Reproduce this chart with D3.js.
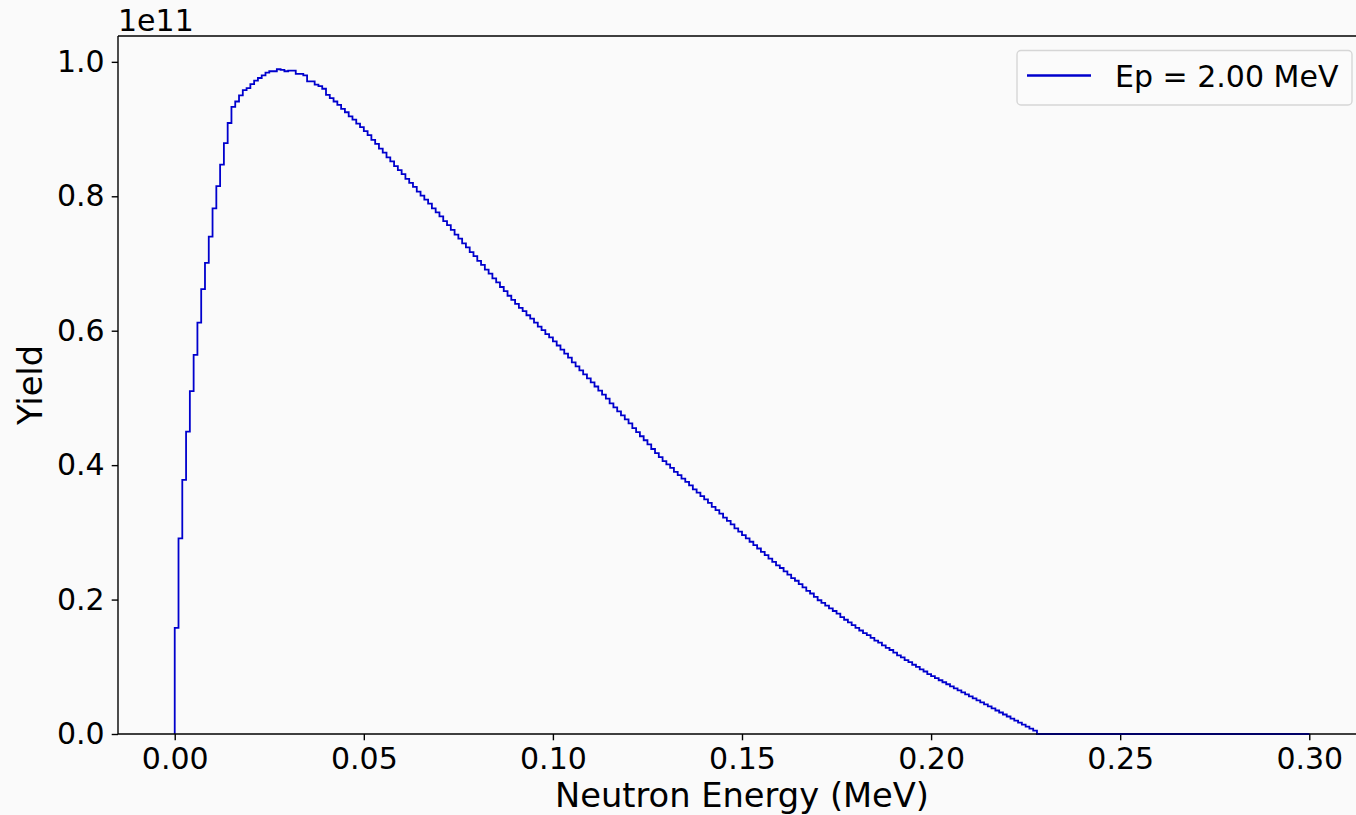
<!DOCTYPE html>
<html>
<head>
<meta charset="utf-8">
<script src="https://cdn.jsdelivr.net/npm/d3@7"></script>
<style>
  html, body { margin: 0; padding: 0; background: #fafafa; }
  svg { display: block; font-family: "DejaVu Sans", sans-serif; }
</style>
</head>
<body>
<svg id="chart" width="1356" height="815"></svg>
<script>
// histogram range (MeV) and per-bin yield, in units of 1e11
const ENERGY_RANGE = [0.0, 0.30];
const YIELD_E11 = [
  0.158, 0.291, 0.378, 0.450, 0.510, 0.564, 0.612, 0.662, 0.701, 0.740,
  0.782, 0.815, 0.847, 0.879, 0.909, 0.933, 0.941, 0.950, 0.958, 0.961,
  0.967, 0.972, 0.976, 0.980, 0.984, 0.986, 0.986, 0.989, 0.988, 0.986,
  0.987, 0.987, 0.982, 0.982, 0.980, 0.971, 0.971, 0.966, 0.964, 0.960,
  0.951, 0.946, 0.941, 0.936, 0.930, 0.925, 0.919, 0.914, 0.908, 0.903,
  0.897, 0.891, 0.884, 0.878, 0.871, 0.865, 0.858, 0.852, 0.845, 0.839,
  0.833, 0.826, 0.820, 0.814, 0.807, 0.801, 0.795, 0.789, 0.782, 0.776,
  0.770, 0.763, 0.757, 0.750, 0.743, 0.737, 0.730, 0.724, 0.717, 0.711,
  0.704, 0.698, 0.691, 0.685, 0.678, 0.672, 0.665, 0.659, 0.652, 0.646,
  0.640, 0.634, 0.629, 0.623, 0.618, 0.612, 0.606, 0.601, 0.595, 0.590,
  0.584, 0.578, 0.572, 0.566, 0.560, 0.553, 0.547, 0.541, 0.535, 0.529,
  0.523, 0.517, 0.511, 0.505, 0.499, 0.492, 0.486, 0.480, 0.474, 0.468,
  0.462, 0.455, 0.449, 0.443, 0.437, 0.431, 0.424, 0.418, 0.412, 0.406,
  0.401, 0.396, 0.390, 0.385, 0.380, 0.375, 0.370, 0.364, 0.359, 0.354,
  0.349, 0.344, 0.338, 0.333, 0.328, 0.322, 0.317, 0.312, 0.306, 0.301,
  0.296, 0.291, 0.286, 0.281, 0.276, 0.271, 0.266, 0.261, 0.256, 0.251,
  0.247, 0.242, 0.237, 0.232, 0.228, 0.223, 0.218, 0.213, 0.209, 0.204,
  0.199, 0.195, 0.191, 0.187, 0.183, 0.179, 0.174, 0.170, 0.166, 0.162,
  0.158, 0.154, 0.150, 0.147, 0.143, 0.139, 0.136, 0.132, 0.128, 0.125,
  0.121, 0.117, 0.114, 0.110, 0.107, 0.103, 0.100, 0.096, 0.093, 0.089,
  0.086, 0.083, 0.080, 0.077, 0.074, 0.071, 0.068, 0.065, 0.062, 0.059,
  0.056, 0.053, 0.050, 0.047, 0.044, 0.041, 0.038, 0.035, 0.032, 0.029,
  0.026, 0.023, 0.020, 0.017, 0.014, 0.011, 0.008, 0.005, 0, 0,
  0, 0, 0, 0, 0, 0, 0, 0, 0, 0,
  0, 0, 0, 0, 0, 0, 0, 0, 0, 0,
  0, 0, 0, 0, 0, 0, 0, 0, 0, 0,
  0, 0, 0, 0, 0, 0, 0, 0, 0, 0,
  0, 0, 0, 0, 0, 0, 0, 0, 0, 0,
  0, 0, 0, 0, 0, 0, 0, 0, 0, 0,
  0, 0, 0, 0, 0, 0, 0, 0, 0, 0
];

const X_TICKS = [0.00, 0.05, 0.10, 0.15, 0.20, 0.25, 0.30];
const Y_TICKS = [0.0, 0.2, 0.4, 0.6, 0.8, 1.0];
const SERIES_LABEL = "Ep = 2.00 MeV";
const X_LABEL = "Neutron Energy (MeV)";
const Y_LABEL = "Yield";
const OFFSET_TEXT = "1e11";

const LINE_COLOR = "#0000cd";
const TICK_FONT = 30;
const LEGEND_FONT = 30;
const LABEL_FONT = 33.7;

const svg = d3.select("#chart");

// axes box; right spine falls just outside the picture, as in the original
const box = { left: 118, top: 36, right: 1366, bottom: 734 };

// matplotlib-style 5% margins
const span = ENERGY_RANGE[1] - ENERGY_RANGE[0];
const x = d3.scaleLinear()
  .domain([ENERGY_RANGE[0] - 0.05 * span, ENERGY_RANGE[1] + 0.05 * span])
  .range([box.left, box.right]);

const yMax = d3.max(YIELD_E11);
const y = d3.scaleLinear()
  .domain([0, yMax * 1.05])
  .range([box.bottom, box.top]);

svg.append("rect")
  .attr("width", 1356).attr("height", 815)
  .attr("fill", "#fafafa");

// ---------------------------
// step outline (histtype='step')
// ---------------------------
const binW = span / YIELD_E11.length;
const pts = [[ENERGY_RANGE[0], 0]];
YIELD_E11.forEach((v, i) => {
  const x0 = ENERGY_RANGE[0] + i * binW;
  pts.push([x0, v], [x0 + binW, v]);
});
pts.push([ENERGY_RANGE[1], 0]);

svg.append("path")
  .attr("d", d3.line().x(d => x(d[0])).y(d => y(d[1]))(pts))
  .attr("fill", "none")
  .attr("stroke", LINE_COLOR)
  .attr("stroke-width", 1.8)
  .attr("stroke-linejoin", "miter");

// ---------------------------
// axes
// ---------------------------
const xAxis = svg.append("g")
  .attr("transform", `translate(0,${box.bottom})`)
  .call(d3.axisBottom(x)
    .tickValues(X_TICKS)
    .tickFormat(d3.format(".2f"))
    .tickSize(6.3)
    .tickPadding(6)
    .tickSizeOuter(0));

const yAxis = svg.append("g")
  .attr("transform", `translate(${box.left},0)`)
  .call(d3.axisLeft(y)
    .tickValues(Y_TICKS)
    .tickFormat(d3.format(".1f"))
    .tickSize(6.3)
    .tickPadding(7)
    .tickSizeOuter(0));

[xAxis, yAxis].forEach(ax => {
  ax.select(".domain").remove();
  ax.selectAll(".tick line").attr("stroke", "#000").attr("stroke-width", 1.4);
  ax.selectAll(".tick text")
    .attr("fill", "#000")
    .style("font-family", "DejaVu Sans, sans-serif")
    .style("font-size", TICK_FONT + "px");
});
xAxis.selectAll(".tick text").attr("dy", "0.76em");

// spines (left, top, bottom; right one is off-canvas)
const spines = svg.append("g")
  .attr("stroke", "#000")
  .attr("stroke-width", 1.4)
  .attr("fill", "none");
spines.append("line").attr("x1", box.left).attr("x2", box.left).attr("y1", box.top).attr("y2", box.bottom);
spines.append("line").attr("x1", box.left).attr("x2", box.right).attr("y1", box.top).attr("y2", box.top);
spines.append("line").attr("x1", box.left).attr("x2", box.right).attr("y1", box.bottom).attr("y2", box.bottom);
spines.append("line").attr("x1", box.right).attr("x2", box.right).attr("y1", box.top).attr("y2", box.bottom);

// zero-bin part of the outline sits on top of the spine
svg.append("path")
  .attr("d", d3.line().x(d => x(d[0])).y(d => y(d[1]))(pts.filter(d => d[1] === 0 && d[0] > 0.2)))
  .attr("fill", "none")
  .attr("stroke", "#000066")
  .attr("stroke-width", 1.8);

// offset text
svg.append("text")
  .attr("x", box.left)
  .attr("y", 31)
  .attr("font-size", TICK_FONT)
  .text(OFFSET_TEXT);

// axis labels
svg.append("text")
  .attr("x", (box.left + box.right) / 2)
  .attr("y", 807)
  .attr("text-anchor", "middle")
  .attr("font-size", LABEL_FONT)
  .text(X_LABEL);

svg.append("text")
  .attr("transform", `translate(42,${(box.top + box.bottom) / 2}) rotate(-90)`)
  .attr("text-anchor", "middle")
  .attr("font-size", LABEL_FONT)
  .text(Y_LABEL);

// ---------------------------
// legend
// ---------------------------
const legend = svg.append("g");
legend.append("rect")
  .attr("x", 1017).attr("y", 50.5)
  .attr("width", 335).attr("height", 54.5)
  .attr("rx", 4)
  .attr("fill", "#fbfbfb")
  .attr("stroke", "#d6d6d6")
  .attr("stroke-width", 1.4);
legend.append("line")
  .attr("x1", 1027).attr("x2", 1091)
  .attr("y1", 75.5).attr("y2", 75.5)
  .attr("stroke", LINE_COLOR)
  .attr("stroke-width", 2.6);
legend.append("text")
  .attr("x", 1115).attr("y", 86.5)
  .attr("font-size", LEGEND_FONT)
  .text(SERIES_LABEL);
</script>
</body>
</html>
